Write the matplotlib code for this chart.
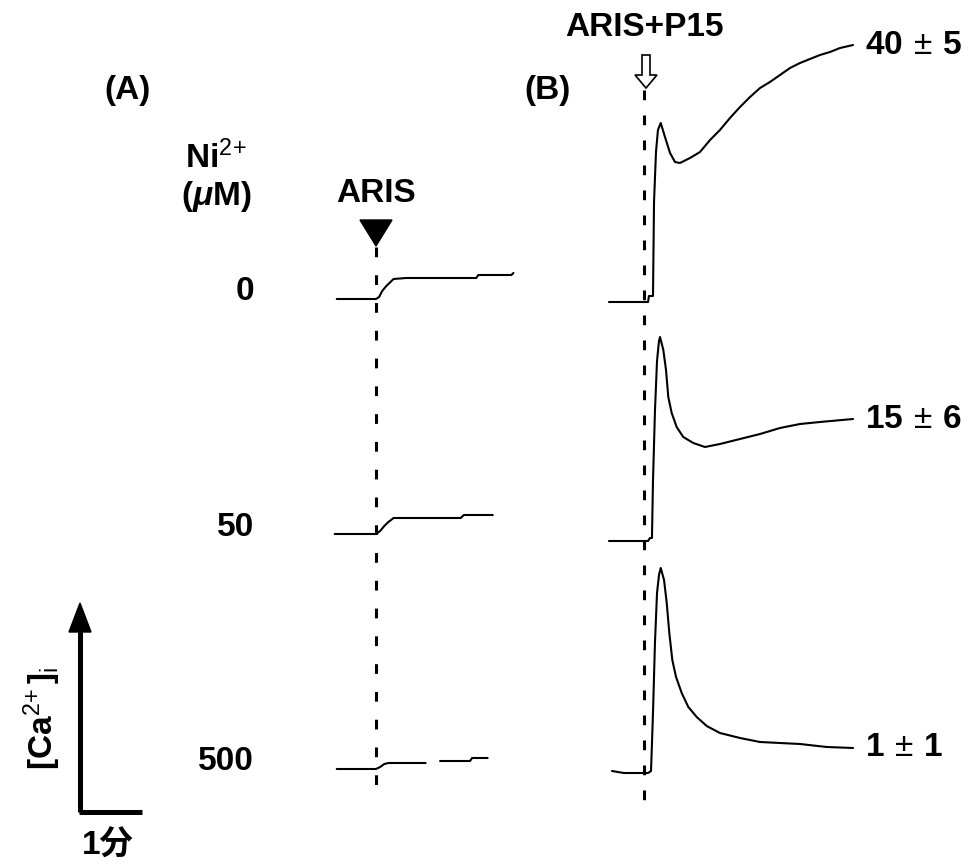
import numpy as np
import matplotlib
matplotlib.use("Agg")
import matplotlib.pyplot as plt
from matplotlib.patches import Polygon, FancyArrow

plt.rcParams['font.family'] = ['Liberation Sans', 'Noto Sans CJK JP']
plt.rcParams['mathtext.fontset'] = 'custom'
plt.rcParams['mathtext.rm'] = 'Liberation Sans:bold'
plt.rcParams['mathtext.it'] = 'Liberation Sans:bold:italic'
plt.rcParams['mathtext.sf'] = 'Liberation Sans'
plt.rcParams['mathtext.default'] = 'sf'
plt.rcParams['lines.scale_dashes'] = False

# ---------------- data ----------------
# Panel A: Ni2+ concentrations (uM) and ARIS responses (time s rel. to stimulus, d[Ca2+]i a.u.)
ni_labels = ['0', '50', '500']
a0_t = [-38, 0, 3, 6, 10, 14, 17, 29, 58, 97, 99, 131, 133]
a0_ca = [0, 0, 2, 8, 13, 17, 20, 21, 21, 21, 24, 24, 26]
a50_t = [-40, 0, 4, 8, 12, 17, 27, 82, 85, 113]
a50_ca = [0, 0, 3, 8, 12, 16, 16, 16, 19, 19]
a500_t = [-38, 0, 4, 8, 12, 48, np.nan, 62, 91, 93, 108]
a500_ca = [0, 0, 2, 5, 6, 6, np.nan, 8, 8, 11, 11]

# Panel B: ARIS+P15 responses; sustained values (mean ± SD)
b_labels = [r'40$\,\pm\,$5', r'15$\,\pm\,$6', r'1$\,\pm\,$1']
b40_t = [-33.9, 3.9, 4.8, 8.7, 9.7, 11.6, 13.5, 16.2, 20.3, 25.2, 30, 34.8, 44.5,
         54.2, 63.9, 73.5, 83.2, 92.9, 102.6, 112.3, 121.9, 131.6, 141.3, 151,
         160.6, 170.3, 180, 189.7, 202.3]
b40_ca = [0, 0, 6, 6, 100, 150, 172, 179, 165, 149, 140, 139, 144,
          150, 162, 172, 184, 195, 205, 214, 220, 227, 234, 239,
          243, 247, 250, 254, 257]
b15_t = [-33.9, 3.9, 5.8, 7.7, 8.7, 10.6, 12.6, 14.5, 15.5, 18.7, 21.3, 23.5,
         26.8, 31.6, 38, 47.7, 59, 73.5, 92.9, 112.3, 131.6, 151, 170.3, 202.3]
b15_ca = [0, 0, 3, 3, 60, 130, 180, 200, 204, 191, 171, 144,
          128, 114, 104, 98, 94, 97, 102, 107, 113, 117, 119, 122]
b1_t = [-31, -19.4, 3.9, 6.8, 8.7, 10.6, 12.6, 14.5, 16.2, 19.4, 22, 24.5, 27.4,
        31, 36.5, 42.9, 51, 60.7, 73.5, 92.9, 112.3, 131.6, 151, 176.8, 202.3]
b1_ca = [2, 0, 0, 2, 60, 130, 180, 198, 205, 193, 170, 140, 113,
         96, 80, 66, 56, 47, 40, 35, 31, 30, 29, 26, 25]

# ---------------- layout ----------------
W, H = 973, 865
fig = plt.figure(figsize=(W / 100, H / 100), dpi=100)
ax = fig.add_axes([0, 0, 1, 1])
ax.set_xlim(0, W)
ax.set_ylim(H, 0)
ax.axis('off')

SEC = 62 / 60.0   # px per second
CA = 1.0          # px per a.u.

def trace(x0, y0, t, ca):
    t = np.asarray(t, float)
    ca = np.asarray(ca, float)
    ax.plot(x0 + t * SEC, y0 - ca * CA, color='black', lw=1.5,
            solid_joinstyle='round', solid_capstyle='round')

xa, xb = 376, 644
a_base = [299, 534, 769]
b_base = [302, 541, 773]
trace(xa, a_base[0], a0_t, a0_ca)
trace(xa, a_base[1], a50_t, a50_ca)
trace(xa, a_base[2], a500_t, a500_ca)
trace(xb, b_base[0], b40_t, b40_ca)
trace(xb, b_base[1], b15_t, b15_ca)
trace(xb, b_base[2], b1_t, b1_ca)

# stimulus lines
ax.plot([xa, xa], [247, 797], color='black', lw=2.2, dashes=(7, 13))
ax.plot([xb, xb], [90, 800], color='black', lw=2.2, dashes=(7, 11))

FS = 24
bold = dict(fontweight='bold', fontsize=FS, color='black')

ax.text(128, 90, '(A)', ha='center', va='center', **bold)
ax.text(548, 90, '(B)', ha='center', va='center', **bold)
ax.text(216, 158, r'Ni$^{2\!+}$', ha='center', va='center', **bold)
ax.text(216, 197, r'($\mathit{\mu}$M)', ha='center', va='center', **bold)

for lab, yb in zip(ni_labels, a_base):
    ax.text(254, yb - 7, lab, ha='right', va='center', **bold)

for lab, yb, ca in zip(b_labels, b_base, [b40_ca[-1], b15_ca[-1], b1_ca[-1]]):
    ax.text(865, yb - ca * CA, lab, ha='left', va='center', **bold)

# ARIS marker
ax.text(xa, 194, 'ARIS', ha='center', va='center', **bold)
ax.add_patch(Polygon([[xa - 16, 220], [xa + 16, 220], [xa, 246]],
                     closed=True, facecolor='black', edgecolor='black'))

# ARIS+P15 marker
ax.text(xb, 28, 'ARIS+P15', ha='center', va='center', **bold)
ax.add_patch(FancyArrow(xb + 2, 55, 0, 33, width=8, head_width=22,
                        head_length=13, length_includes_head=True,
                        facecolor='white', edgecolor='black', lw=1.2))

# scale bar
ax.plot([80, 80], [812, 625], color='black', lw=3.6, solid_capstyle='butt')
ax.plot([78.7, 142], [812, 812], color='black', lw=3.6, solid_capstyle='butt')
ax.add_patch(Polygon([[69, 632], [91, 632], [80, 603]], closed=True,
                     facecolor='black', edgecolor='black'))
ax.text(42, 718, r'[Ca$^{2\!+}$]$_{i}$', rotation=90,
        ha='center', va='center', **bold)
ax.text(108, 846, '1分', ha='center', va='center', fontweight='bold',
        fontsize=FS, family=['Liberation Sans', 'Noto Sans CJK JP'])

fig.savefig('out.png', dpi=100)
